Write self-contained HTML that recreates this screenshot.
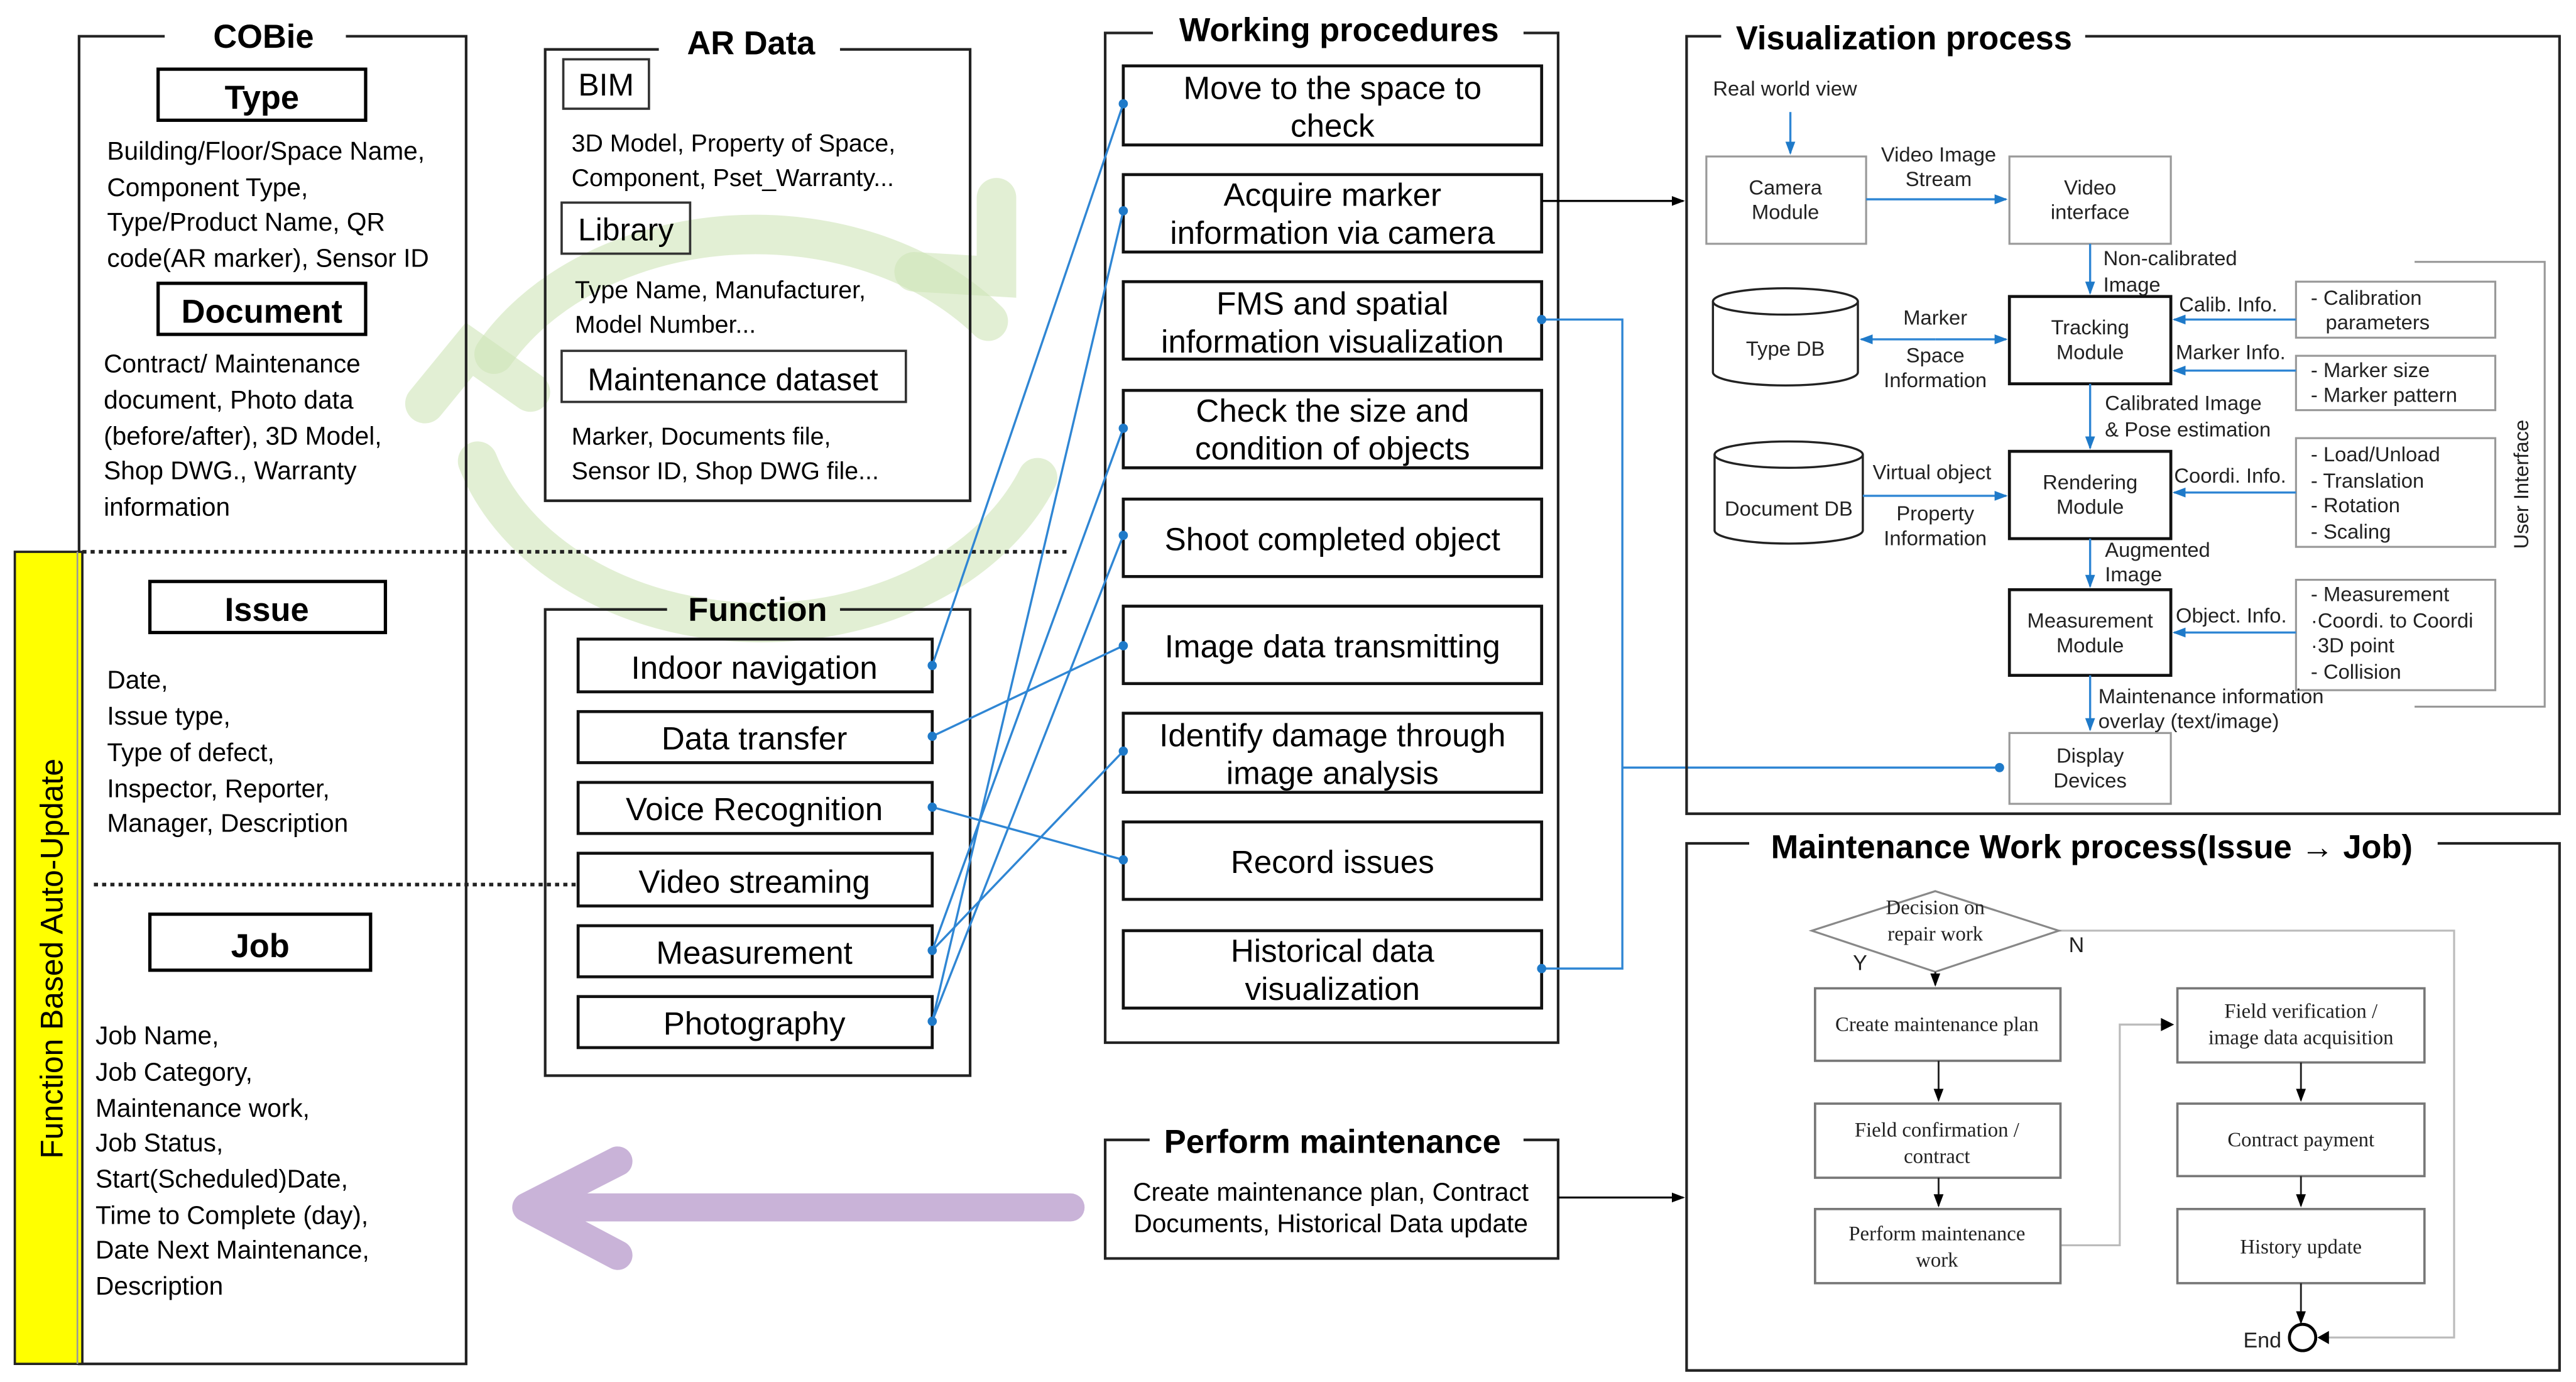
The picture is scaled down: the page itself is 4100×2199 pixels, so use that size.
<!DOCTYPE html>
<html><head><meta charset="utf-8"><style>html,body{margin:0;padding:0;background:#fff}svg{display:block}</style></head>
<body>
<svg width="4100" height="2199" viewBox="0 0 1564 839" preserveAspectRatio="none" xmlns="http://www.w3.org/2000/svg" font-family="Liberation Sans, sans-serif">
<defs>
<marker id="ab" markerWidth="8" markerHeight="8" refX="7" refY="4" orient="auto" markerUnits="userSpaceOnUse"><path d="M0,1 L8,4 L0,7 z" fill="#1f7ac9"/></marker>
<marker id="ak" markerWidth="8" markerHeight="8" refX="7" refY="4" orient="auto" markerUnits="userSpaceOnUse"><path d="M0,1 L8,4 L0,7 z" fill="#000"/></marker>
<marker id="as" markerWidth="8" markerHeight="8" refX="7" refY="4" orient="auto" markerUnits="userSpaceOnUse"><path d="M0,1 L8,4 L0,7 z" fill="#000"/></marker>
</defs>
<rect width="1564" height="839" fill="#fff"/>

<!-- green circular arrows -->
<g fill="none" stroke="#cfe5b8" stroke-opacity="0.6" stroke-width="24" stroke-linecap="round">
<path d="M300,215 A180,138 0 0 1 600,195"/>
<path d="M555,165 L605,168 L605,120"/>
<path d="M630,290 A180,138 0 0 1 290,280"/>
<path d="M258,245 L285,212 L322,238"/>
</g>

<!-- COBie -->
<path d="M100,22 H48 V828 H283 V22 H210" fill="none" stroke="#222" stroke-width="1.6"/>
<text x="160" y="29" font-size="20" font-weight="bold" text-anchor="middle">COBie</text>
<rect x="96" y="42" width="126" height="31" fill="none" stroke="#000" stroke-width="2"/>
<text x="159" y="66" font-size="20" font-weight="bold" text-anchor="middle">Type</text>
<g font-size="15.5">
<text x="65" y="97">Building/Floor/Space Name,</text>
<text x="65" y="119">Component Type,</text>
<text x="65" y="140">Type/Product Name, QR</text>
<text x="65" y="162">code(AR marker), Sensor ID</text>
</g>
<rect x="96" y="172" width="126" height="31" fill="none" stroke="#000" stroke-width="2"/>
<text x="159" y="196" font-size="20" font-weight="bold" text-anchor="middle">Document</text>
<g font-size="15.5">
<text x="63" y="226">Contract/ Maintenance</text>
<text x="63" y="248">document, Photo data</text>
<text x="63" y="270">(before/after), 3D Model,</text>
<text x="63" y="291">Shop DWG., Warranty</text>
<text x="63" y="313">information</text>
</g>
<line x1="50" y1="335" x2="650" y2="335" stroke="#222" stroke-width="2.2" stroke-dasharray="2.5,2.5"/>
<rect x="91" y="353" width="143" height="31" fill="none" stroke="#000" stroke-width="2"/>
<text x="162" y="377" font-size="20" font-weight="bold" text-anchor="middle">Issue</text>
<g font-size="15.5">
<text x="65" y="418">Date,</text>
<text x="65" y="440">Issue type,</text>
<text x="65" y="462">Type of defect,</text>
<text x="65" y="484">Inspector, Reporter,</text>
<text x="65" y="505">Manager, Description</text>
</g>
<line x1="57" y1="537" x2="350" y2="537" stroke="#222" stroke-width="2.2" stroke-dasharray="2.5,2.5"/>
<rect x="91" y="555" width="134" height="34" fill="none" stroke="#000" stroke-width="2"/>
<text x="158" y="581" font-size="20" font-weight="bold" text-anchor="middle">Job</text>
<g font-size="15.5">
<text x="58" y="634">Job Name,</text>
<text x="58" y="656">Job Category,</text>
<text x="58" y="678">Maintenance work,</text>
<text x="58" y="699">Job Status,</text>
<text x="58" y="721">Start(Scheduled)Date,</text>
<text x="58" y="743">Time to Complete (day),</text>
<text x="58" y="764">Date Next Maintenance,</text>
<text x="58" y="786">Description</text>
</g>
<rect x="9" y="335" width="41" height="493" fill="#ffff00" stroke="#222" stroke-width="1.4"/>
<line x1="47" y1="335" x2="47" y2="828" stroke="#999" stroke-width="1"/>
<text transform="translate(38,582) rotate(-90)" font-size="19" text-anchor="middle">Function Based Auto-Update</text>

<!-- AR Data -->
<path d="M400,30 H331 V304 H589 V30 H510" fill="none" stroke="#222" stroke-width="1.6"/>
<text x="456" y="33" font-size="20" font-weight="bold" text-anchor="middle">AR Data</text>
<rect x="342" y="36" width="52" height="30" fill="none" stroke="#333" stroke-width="1.4"/>
<text x="368" y="58" font-size="19" text-anchor="middle">BIM</text>
<g font-size="15">
<text x="347" y="92">3D Model, Property of Space,</text>
<text x="347" y="113">Component, Pset_Warranty...</text>
</g>
<rect x="341" y="123" width="78" height="31" fill="none" stroke="#333" stroke-width="1.4"/>
<text x="380" y="146" font-size="19" text-anchor="middle">Library</text>
<g font-size="15">
<text x="349" y="181">Type Name, Manufacturer,</text>
<text x="349" y="202">Model Number...</text>
</g>
<rect x="341" y="213" width="209" height="31" fill="none" stroke="#333" stroke-width="1.4"/>
<text x="445" y="237" font-size="19" text-anchor="middle">Maintenance dataset</text>
<g font-size="15">
<text x="347" y="270">Marker, Documents file,</text>
<text x="347" y="291">Sensor ID, Shop DWG file...</text>
</g>

<!-- Function -->
<path d="M405,370 H331 V653 H589 V370 H510" fill="none" stroke="#222" stroke-width="1.6"/>
<text x="460" y="377" font-size="20" font-weight="bold" text-anchor="middle">Function</text>
<g fill="none" stroke="#111" stroke-width="1.8">
<rect x="351" y="388" width="215" height="32"/>
<rect x="351" y="432" width="215" height="31"/>
<rect x="351" y="475" width="215" height="31"/>
<rect x="351" y="518" width="215" height="32"/>
<rect x="351" y="562" width="215" height="31"/>
<rect x="351" y="605" width="215" height="31"/>
</g>
<g font-size="19.5" text-anchor="middle">
<text x="458" y="412">Indoor navigation</text>
<text x="458" y="455">Data transfer</text>
<text x="458" y="498">Voice Recognition</text>
<text x="458" y="542">Video streaming</text>
<text x="458" y="585">Measurement</text>
<text x="458" y="628">Photography</text>
</g>

<!-- purple arrow -->
<g stroke="#c9b3d8" fill="none" stroke-linecap="round">
<line x1="650" y1="733" x2="320" y2="733" stroke-width="17"/>
<path d="M375,705 L320,733 L375,762" stroke-width="18" stroke-linejoin="round"/>
</g>

<!-- Working procedures -->
<path d="M700,20 H671 V633 H946 V20 H925" fill="none" stroke="#222" stroke-width="1.6"/>
<text x="813" y="25" font-size="20" font-weight="bold" text-anchor="middle">Working procedures</text>
<g fill="#fff" stroke="#111" stroke-width="1.8">
<rect x="682" y="40" width="254" height="48"/>
<rect x="682" y="106" width="254" height="47"/>
<rect x="682" y="171" width="254" height="47"/>
<rect x="682" y="237" width="254" height="47"/>
<rect x="682" y="303" width="254" height="47"/>
<rect x="682" y="368" width="254" height="47"/>
<rect x="682" y="433" width="254" height="48"/>
<rect x="682" y="499" width="254" height="47"/>
<rect x="682" y="565" width="254" height="47"/>
</g>
<g font-size="19.5" text-anchor="middle">
<text x="809" y="60">Move to the space to</text><text x="809" y="83">check</text>
<text x="809" y="125">Acquire marker</text><text x="809" y="148">information via camera</text>
<text x="809" y="191">FMS and spatial</text><text x="809" y="214">information visualization</text>
<text x="809" y="256">Check the size and</text><text x="809" y="279">condition of objects</text>
<text x="809" y="334">Shoot completed object</text>
<text x="809" y="399">Image data transmitting</text>
<text x="809" y="453">Identify damage through</text><text x="809" y="476">image analysis</text>
<text x="809" y="530">Record issues</text>
<text x="809" y="584">Historical data</text><text x="809" y="607">visualization</text>
</g>

<!-- blue connectors -->
<g stroke="#2f86d4" stroke-width="1.3" fill="none">
<line x1="566" y1="404" x2="682" y2="63"/>
<line x1="566" y1="447" x2="682" y2="392"/>
<line x1="566" y1="490" x2="682" y2="522"/>
<line x1="566" y1="577" x2="682" y2="260"/>
<line x1="566" y1="577" x2="682" y2="456"/>
<line x1="566" y1="620" x2="682" y2="128"/>
<line x1="566" y1="620" x2="682" y2="325"/>
<path d="M936,194 H985 V588 H936"/>
<line x1="985" y1="466" x2="1214" y2="466"/>
</g>
<g fill="#1f7ac9">
<circle cx="566" cy="404" r="2.8"/><circle cx="566" cy="447" r="2.8"/><circle cx="566" cy="490" r="2.8"/><circle cx="566" cy="577" r="2.8"/><circle cx="566" cy="620" r="2.8"/>
<circle cx="682" cy="63" r="2.8"/><circle cx="682" cy="128" r="2.8"/><circle cx="682" cy="260" r="2.8"/><circle cx="682" cy="325" r="2.8"/><circle cx="682" cy="392" r="2.8"/><circle cx="682" cy="456" r="2.8"/><circle cx="682" cy="522" r="2.8"/>
<circle cx="936" cy="194" r="2.8"/><circle cx="936" cy="588" r="2.8"/><circle cx="1214" cy="466" r="2.8"/>
</g>
<line x1="936" y1="122" x2="1022" y2="122" stroke="#000" stroke-width="1.2" marker-end="url(#ak)"/>

<!-- Perform maintenance -->
<path d="M698,692 H671 V764 H946 V692 H925" fill="none" stroke="#222" stroke-width="1.6"/>
<text x="809" y="700" font-size="20" font-weight="bold" text-anchor="middle">Perform maintenance</text>
<g font-size="15.5" text-anchor="middle">
<text x="808" y="729">Create maintenance plan, Contract</text>
<text x="808" y="748">Documents, Historical Data update</text>
</g>
<line x1="946" y1="727" x2="1022" y2="727" stroke="#000" stroke-width="1.2" marker-end="url(#ak)"/>

<!-- Visualization process -->
<path d="M1045,22 H1024 V494 H1554 V22 H1266" fill="none" stroke="#222" stroke-width="1.6"/>
<text x="1156" y="30" font-size="20" font-weight="bold" text-anchor="middle">Visualization process</text>
<text x="1040" y="58" font-size="12.5" fill="#222">Real world view</text>
<line x1="1087" y1="68" x2="1087" y2="93" stroke="#2f86d4" stroke-width="1.3" marker-end="url(#ab)"/>
<path d="M1466,159 H1545 V429 H1466" fill="none" stroke="#999" stroke-width="1.2"/>
<g fill="#fff" stroke="#999" stroke-width="1.2">
<rect x="1036" y="95" width="97" height="53"/>
<rect x="1220" y="95" width="98" height="53"/>
<rect x="1220" y="445" width="98" height="43"/>
<rect x="1394" y="171" width="121" height="34"/>
<rect x="1394" y="216" width="121" height="33"/>
<rect x="1394" y="266" width="121" height="66"/>
<rect x="1394" y="352" width="121" height="67"/>
</g>
<g fill="#fff" stroke="#111" stroke-width="1.8">
<rect x="1220" y="180" width="98" height="53"/>
<rect x="1220" y="274" width="98" height="53"/>
<rect x="1220" y="358" width="98" height="52"/>
</g>
<g fill="#fff" stroke="#222" stroke-width="1.3">
<path d="M1040,183 V226 A44,8 0 0 0 1128,226 V183"/>
<ellipse cx="1084" cy="183" rx="44" ry="8"/>
<path d="M1041,276 V322 A45,8 0 0 0 1131,322 V276"/>
<ellipse cx="1086" cy="276" rx="45" ry="8"/>
</g>
<g font-size="12.5" text-anchor="middle" fill="#222">
<text x="1084" y="118">Camera</text><text x="1084" y="133">Module</text>
<text x="1269" y="118">Video</text><text x="1269" y="133">interface</text>
<text x="1269" y="203">Tracking</text><text x="1269" y="218">Module</text>
<text x="1269" y="297">Rendering</text><text x="1269" y="312">Module</text>
<text x="1269" y="381">Measurement</text><text x="1269" y="396">Module</text>
<text x="1269" y="463">Display</text><text x="1269" y="478">Devices</text>
<text x="1084" y="216">Type DB</text>
<text x="1086" y="313">Document DB</text>
<text x="1177" y="98">Video Image</text><text x="1177" y="113">Stream</text>
<text x="1175" y="197">Marker</text>
<text x="1175" y="220">Space</text><text x="1175" y="235">Information</text>
<text x="1173" y="291">Virtual object</text>
<text x="1175" y="316">Property</text><text x="1175" y="331">Information</text>
</g>
<g font-size="12.5" fill="#222">
<text x="1277" y="161">Non-calibrated</text><text x="1277" y="177">Image</text>
<text x="1323" y="189">Calib. Info.</text>
<text x="1321" y="218">Marker Info.</text>
<text x="1278" y="249">Calibrated Image</text><text x="1278" y="265">&amp; Pose estimation</text>
<text x="1320" y="293">Coordi. Info.</text>
<text x="1278" y="338">Augmented</text><text x="1278" y="353">Image</text>
<text x="1321" y="378">Object. Info.</text>
<text x="1274" y="427">Maintenance information</text><text x="1274" y="442">overlay (text/image)</text>
<text x="1403" y="185">- Calibration</text><text x="1412" y="200">parameters</text>
<text x="1403" y="229">- Marker size</text><text x="1403" y="244">- Marker pattern</text>
<text x="1403" y="280">- Load/Unload</text><text x="1403" y="296">- Translation</text><text x="1403" y="311">- Rotation</text><text x="1403" y="327">- Scaling</text>
<text x="1403" y="365">- Measurement</text><text x="1403" y="381">·Coordi. to Coordi</text><text x="1403" y="396">·3D point</text><text x="1403" y="412">- Collision</text>
</g>
<text transform="translate(1535,294) rotate(-90)" font-size="12.5" text-anchor="middle" fill="#222">User Interface</text>
<g stroke="#2f86d4" stroke-width="1.3" fill="none">
<line x1="1133" y1="121" x2="1218" y2="121" marker-end="url(#ab)"/>
<line x1="1269" y1="148" x2="1269" y2="178" marker-end="url(#ab)"/>
<line x1="1175" y1="206" x2="1218" y2="206" marker-end="url(#ab)"/>
<line x1="1175" y1="206" x2="1130" y2="206" marker-end="url(#ab)"/>
<line x1="1131" y1="301" x2="1218" y2="301" marker-end="url(#ab)"/>
<line x1="1269" y1="233" x2="1269" y2="272" marker-end="url(#ab)"/>
<line x1="1269" y1="327" x2="1269" y2="356" marker-end="url(#ab)"/>
<line x1="1269" y1="410" x2="1269" y2="443" marker-end="url(#ab)"/>
<line x1="1394" y1="194" x2="1320" y2="194" marker-end="url(#ab)"/>
<line x1="1394" y1="225" x2="1320" y2="225" marker-end="url(#ab)"/>
<line x1="1394" y1="299" x2="1320" y2="299" marker-end="url(#ab)"/>
<line x1="1394" y1="384" x2="1320" y2="384" marker-end="url(#ab)"/>
</g>

<!-- Maintenance Work process -->
<path d="M1062,512 H1024 V832 H1554 V512 H1480" fill="none" stroke="#222" stroke-width="1.6"/>
<text x="1270" y="521" font-size="20" font-weight="bold" text-anchor="middle">Maintenance Work process(Issue → Job)</text>
<g stroke="#bbb" stroke-width="1.2" fill="none">
<path d="M1251,756 H1287 V622 H1318"/>
<path d="M1250,565 H1490 V812 H1410"/>
</g>
<polygon points="1175,541 1250,565 1175,590 1100,565" fill="#fff" stroke="#888" stroke-width="1.2"/>
<g fill="#fff" stroke="#777" stroke-width="1.4">
<rect x="1102" y="600" width="149" height="44"/>
<rect x="1102" y="670" width="149" height="45"/>
<rect x="1102" y="734" width="149" height="45"/>
<rect x="1322" y="600" width="150" height="45"/>
<rect x="1322" y="670" width="150" height="44"/>
<rect x="1322" y="734" width="150" height="45"/>
</g>
<g font-family="Liberation Serif, serif" font-size="12.5" text-anchor="middle" fill="#222">
<text x="1175" y="555">Decision on</text><text x="1175" y="571">repair work</text>
<text x="1176" y="626">Create maintenance plan</text>
<text x="1176" y="690">Field confirmation /</text><text x="1176" y="706">contract</text>
<text x="1176" y="753">Perform maintenance</text><text x="1176" y="769">work</text>
<text x="1397" y="618">Field verification /</text><text x="1397" y="634">image data acquisition</text>
<text x="1397" y="696">Contract payment</text>
<text x="1397" y="761">History update</text>
</g>
<g font-size="13" fill="#222">
<text x="1125" y="589">Y</text>
<text x="1256" y="578">N</text>
<text x="1362" y="818">End</text>
</g>
<g stroke="#222" stroke-width="1.1" fill="none">
<line x1="1175" y1="590" x2="1175" y2="598" marker-end="url(#as)"/>
<line x1="1177" y1="644" x2="1177" y2="668" marker-end="url(#as)"/>
<line x1="1177" y1="715" x2="1177" y2="732" marker-end="url(#as)"/>
<line x1="1397" y1="645" x2="1397" y2="668" marker-end="url(#as)"/>
<line x1="1397" y1="714" x2="1397" y2="732" marker-end="url(#as)"/>
<line x1="1397" y1="779" x2="1397" y2="803" marker-end="url(#as)"/>
</g>
<path d="M1312,618 L1320,622 L1312,626 z" fill="#000"/>
<path d="M1414,808 L1407,812 L1414,816 z" fill="#000"/>
<circle cx="1398" cy="812" r="8" fill="#fff" stroke="#000" stroke-width="1.8"/>
</svg>
</body></html>
